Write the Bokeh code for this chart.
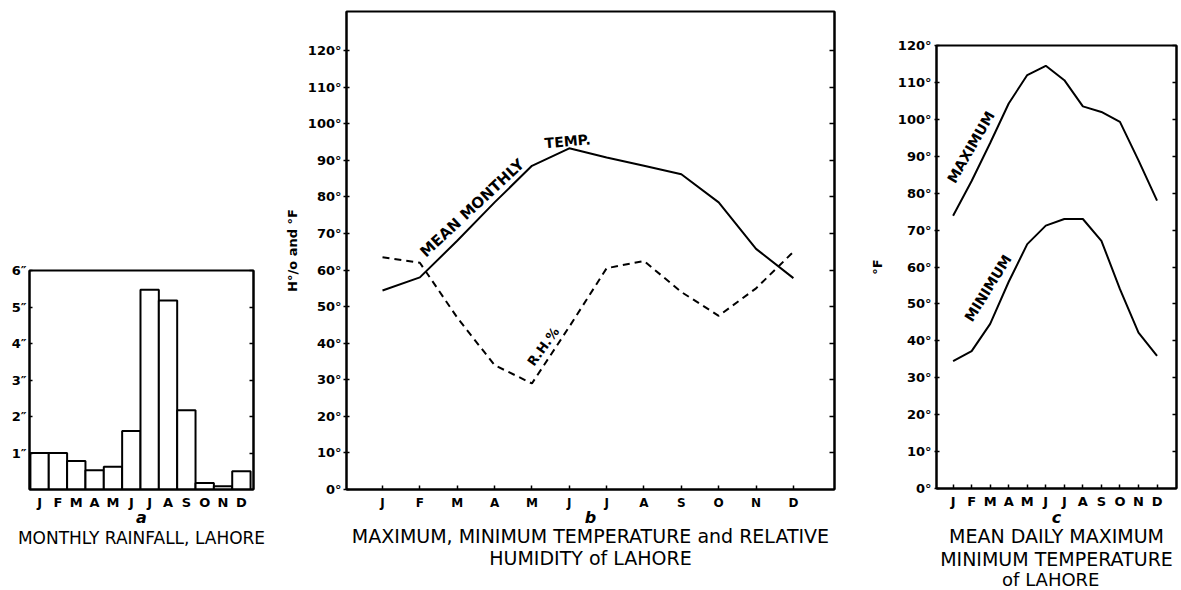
from bokeh.plotting import figure
from bokeh.layouts import row, column
from bokeh.models import Range1d, FixedTicker, LinearAxis, Label, Title
from bokeh.embed import file_html
from bokeh.resources import INLINE

# ---------------- data ----------------
months = ["J", "F", "M", "A", "M", "J", "J", "A", "S", "O", "N", "D"]
month_pos = [1, 2, 3, 4, 5, 6, 7, 8, 9, 10, 11, 12]

# (a) monthly rainfall, inches
rainfall_in = [1.0, 1.0, 0.78, 0.53, 0.62, 1.6, 5.47, 5.18, 2.17, 0.18, 0.09, 0.5]
rain_ticks = [1, 2, 3, 4, 5, 6]
rain_labels = ["1″", "2″", "3″", "4″", "5″", "6″"]

# (b) mean monthly temperature (°F) and relative humidity (%)
mean_temp_f = [54.4, 58.0, 68.0, 78.5, 88.5, 93.3, 90.8, 88.5, 86.2, 78.5, 65.8, 57.8]
rel_humidity = [63.5, 62.0, 47.0, 34.0, 29.0, 44.5, 60.5, 62.5, 54.0, 47.5, 55.0, 65.0]

# (c) mean daily maximum / minimum temperature (°F)
max_temp_f = [73.9, 83.3, 93.6, 104.3, 112.0, 114.5, 110.6, 103.5, 102.0, 99.3, 88.9, 78.0]
min_temp_f = [34.5, 37.2, 44.6, 56.0, 66.2, 71.2, 73.0, 73.0, 67.1, 54.0, 42.2, 35.9]

deg_ticks = [0, 10, 20, 30, 40, 50, 60, 70, 80, 90, 100, 110, 120]
deg_labels = [f"{t}°" for t in deg_ticks]

FONT = "DejaVu Sans"


def base_fig(width, height, xr, yr, mbl, mbr, mbt, mbb):
    p = figure(width=width, height=height, x_range=Range1d(*xr), y_range=Range1d(*yr),
               output_backend="svg", toolbar_location=None, title=None,
               min_border_left=mbl, min_border_right=mbr,
               min_border_top=mbt, min_border_bottom=mbb)
    p.xgrid.visible = False
    p.ygrid.visible = False
    p.outline_line_color = "black"
    p.outline_line_width = 2
    p.background_fill_color = "white"
    p.border_fill_color = "white"
    return p


def style_axis(ax, size, tick_in, tick_out, standoff):
    ax.axis_line_width = 2
    ax.axis_line_color = "black"
    ax.major_tick_line_width = 1.5
    ax.major_tick_line_color = "black"
    ax.major_tick_in = tick_in
    ax.major_tick_out = tick_out
    ax.minor_tick_line_color = None
    ax.major_label_text_font = FONT
    ax.major_label_text_font_size = size
    ax.major_label_text_font_style = "bold"
    ax.major_label_text_color = "black"
    ax.major_label_standoff = standoff


def month_axis(p, size, tick_in, standoff):
    ax = p.xaxis[0]
    ax.ticker = FixedTicker(ticks=month_pos)
    ax.major_label_overrides = {m: lab for m, lab in zip(month_pos, months)}
    style_axis(ax, size, tick_in, 0, standoff)


def right_axis(p, ticks, tick_in):
    ra = LinearAxis(ticker=FixedTicker(ticks=ticks))
    style_axis(ra, "0px", tick_in, 0, 0)
    ra.major_label_overrides = {t: "" for t in ticks}
    p.add_layout(ra, "right")


def y_title(ax, s, standoff):
    ax.axis_label = s
    ax.axis_label_text_font = FONT
    ax.axis_label_text_font_size = "13px"
    ax.axis_label_text_font_style = "bold"
    ax.axis_label_text_color = "black"
    ax.axis_label_standoff = standoff


def on_plot(p, x, y, s, size, angle):
    p.add_layout(Label(x=x, y=y, text=s, text_font=FONT, text_font_size=size,
                       text_font_style="bold", text_color="black",
                       text_align="left", text_baseline="bottom",
                       angle=angle, angle_units="deg"))


def below(p, s, size, style="normal", offset=0, standoff=0):
    p.add_layout(Title(text=s, align="center", offset=offset, standoff=standoff,
                       text_font=FONT, text_font_size=size, text_font_style=style,
                       text_color="black"), "below")


# ---------------- (a) monthly rainfall ----------------
pa = base_fig(281, 590, (0.45, 12.66), (0, 6), 29, 28, 270, 101)
pa.vbar(x=month_pos, top=rainfall_in, width=1.0, bottom=0,
        fill_color="white", line_color="black", line_width=2)
month_axis(pa, "13px", 0, 5)
pa.xaxis[0].major_tick_line_color = None
ya = pa.yaxis[0]
ya.ticker = FixedTicker(ticks=rain_ticks)
ya.major_label_overrides = {t: lab for t, lab in zip(rain_ticks, rain_labels)}
style_axis(ya, "13px", 3, 0, 3)
right_axis(pa, rain_ticks, 4)
below(pa, "a", "16px", "bold italic", offset=-4, standoff=-14)
below(pa, "MONTHLY RAINFALL, LAHORE", "17px", standoff=12)

# ---------------- (b) temperature & humidity ----------------
pb = base_fig(585, 590, (0.036, 13.1), (0, 130.7), 65, 32, 11, 101)
pb.line(month_pos, mean_temp_f, line_color="black", line_width=2)
pb.line(month_pos, rel_humidity, line_color="black", line_width=2, line_dash="7 5")
month_axis(pb, "12px", 4, 6)
yb = pb.yaxis[0]
yb.ticker = FixedTicker(ticks=deg_ticks)
yb.major_label_overrides = {t: lab for t, lab in zip(deg_ticks, deg_labels)}
style_axis(yb, "13px", 3, 3, 2)
y_title(yb, "H°/o and °F", 5)
right_axis(pb, deg_ticks[1:], 5)
on_plot(pb, 2.24, 62.5, "MEAN MONTHLY", "15px", 43)
on_plot(pb, 5.36, 92.5, "TEMP.", "14px", 5)
on_plot(pb, 5.12, 33.0, "R.H.%", "13px", 54)
below(pb, "b", "16px", "bold italic", offset=28, standoff=-14)
below(pb, "MAXIMUM, MINIMUM TEMPERATURE and RELATIVE", "19px", offset=6, standoff=7)
below(pb, "HUMIDITY of LAHORE", "19px", standoff=-12)

# ---------------- (c) max / min temperature ----------------
pc = base_fig(315, 590, (0.105, 13.05), (0, 120), 64, 5, 45, 102)
pc.line(month_pos, max_temp_f, line_color="black", line_width=2)
pc.line(month_pos, min_temp_f, line_color="black", line_width=2)
month_axis(pc, "13px", 4, 5)
yc = pc.yaxis[0]
yc.ticker = FixedTicker(ticks=deg_ticks)
yc.major_label_overrides = {t: lab for t, lab in zip(deg_ticks, deg_labels)}
style_axis(yc, "13px", 3, 2, 3)
y_title(yc, "°F", 10)
right_axis(pc, deg_ticks[1:], 4)
on_plot(pc, 1.25, 82.0, "MAXIMUM", "14px", 60)
on_plot(pc, 2.17, 44.5, "MINIMUM", "14px", 58)
below(pc, "c", "16px", "bold italic", offset=7, standoff=-12)
below(pc, "MEAN DAILY MAXIMUM", "19px", offset=-7, standoff=5)
below(pc, "MINIMUM TEMPERATURE", "19px", offset=-2, standoff=-7)
below(pc, "of   LAHORE", "18px", offset=4, standoff=0)

layout = row(column(pa), column(pb), column(pc))
open("out.html", "w").write(file_html(layout, INLINE))
